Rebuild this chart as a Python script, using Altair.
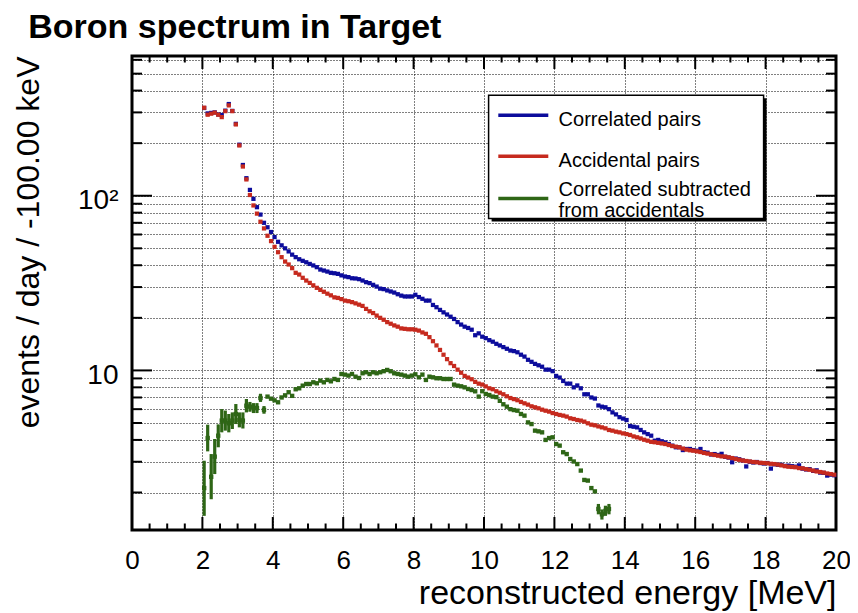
import altair as alt
import pandas as pd

# ---------------- data ----------------
E_START = 2.0      # first bin edge [MeV]
BIN = 0.1          # bin width [MeV]

blue = [318, 296, 298, 300, 292, 290, 307, 335, 306, 258,
        196, 150, 126, 108, 96, 86, 78, 70, 66, 62,
        58, 54.5, 52, 50, 48, 46, 44.5, 43.3, 42.4, 41.6,
        40.7, 39.9, 39.0, 37.8, 37.3, 36.8, 36.2, 36.0, 35.7, 35.0,
        34.5, 34.2, 33.7, 33.6, 33.3, 32.7, 32.0, 31.6, 30.9, 30.2,
        29.4, 29.2, 28.7, 28.3, 27.9, 27.3, 26.8, 26.5, 26.5, 26.5,
        27.1, 26.3, 25.7, 25.1, 25.1, 23.7, 23.0, 22.2, 21.5, 20.9,
        20.3, 19.7, 18.9, 18.3, 17.8, 17.5, 17.1, 15.9, 16.3, 15.6,
        15.3, 14.9, 14.6, 14.2, 13.9, 13.6, 13.3, 13.0, 12.9, 12.7,
        12.3, 12.0, 11.5, 11.2, 10.9, 10.7, 10.5, 10.1, 10.1, 9.9,
        9.3, 9.1, 8.7, 8.4, 8.4, 8.0, 8.2, 7.9, 7.3, 7.3,
        7.0, 6.9, 6.3, 6.2, 6.15, 6.0, 5.75, 5.6, 5.4, 5.3,
        5.2, 4.8, 4.76, 4.72, 4.56, 4.42, 4.32, 4.23, 3.96, 4.0,
        3.93, 3.87, 3.79, 3.71, 3.63, 3.63, 3.50, 3.55, 3.55, 3.50,
        3.47, 3.55, 3.40, 3.38, 3.30, 3.32, 3.28, 3.33, 3.20, 3.17,
        2.98, 3.13, 3.10, 3.05, 2.82, 3.00, 2.97, 2.99, 2.95, 2.93,
        2.95, 2.74, 2.90, 2.88, 2.88, 2.84, 2.85, 2.83, 2.81, 2.86,
        2.74, 2.71, 2.72, 2.66, 2.68, 2.60, 2.59, 2.50, 2.53, 2.51]

red = [319, 291, 295, 299, 291, 282, 305, 329, 305, 256,
       194, 147, 124, 101, 88, 79, 71, 65, 59, 55,
       51, 47.5, 44.5, 42.0, 40.4, 38.5, 36.2, 35.4, 33.9, 32.7,
       31.7, 30.7, 29.7, 28.9, 28.2, 27.5, 26.9, 26.2, 26.0, 25.6,
       25.1, 24.9, 24.6, 24.2, 23.8, 23.4, 22.5, 21.8, 21.3, 20.6,
       20.0, 19.5, 18.9, 18.5, 18.1, 17.8, 17.4, 17.3, 17.2, 17.2,
       17.1, 16.9, 16.5, 16.2, 15.5, 14.7, 13.9, 13.1, 12.3, 11.6,
       11.0, 10.6, 10.1, 9.7, 9.3, 9.1, 8.9, 8.6, 8.4, 8.3,
       8.1, 7.9, 7.8, 7.6, 7.45, 7.3, 7.11, 6.95, 6.85, 6.75,
       6.6, 6.48, 6.37, 6.23, 6.15, 6.07, 5.96, 5.88, 5.81, 5.70,
       5.63, 5.56, 5.51, 5.44, 5.32, 5.27, 5.20, 5.16, 5.09, 4.98,
       4.89, 4.85, 4.78, 4.72, 4.66, 4.56, 4.52, 4.46, 4.42, 4.36,
       4.32, 4.27, 4.19, 4.14, 4.08, 4.01, 3.96, 3.90, 3.88, 3.85,
       3.82, 3.79, 3.74, 3.69, 3.66, 3.63, 3.57, 3.52, 3.49, 3.47,
       3.44, 3.41, 3.37, 3.34, 3.31, 3.28, 3.25, 3.22, 3.21, 3.18,
       3.15, 3.11, 3.08, 3.05, 3.03, 3.01, 2.99, 2.98, 2.96, 2.95,
       2.94, 2.92, 2.91, 2.89, 2.86, 2.83, 2.81, 2.80, 2.79, 2.76,
       2.75, 2.72, 2.70, 2.67, 2.64, 2.62, 2.60, 2.57, 2.55, 2.53]

green = [2.12, 4.10, 2.46, 3.21, 4.23, 5.16, 5.16, 4.98, 5.16, 5.63,
         5.2, 5.16, 6.28, 6.2, 6.09, 6.09, 6.95, 5.94, 7.08, 6.89,
         6.74, 6.57, 7.0, 7.2, 7.5, 7.15, 7.8, 7.9, 8.18, 8.36,
         8.36, 8.55, 8.44, 8.74, 8.55, 8.82, 8.66, 8.93, 8.82, 9.54,
         9.46, 9.34, 9.54, 9.21, 9.05, 9.63, 9.76, 9.54, 9.76, 9.63,
         9.76, 9.9, 10.06, 9.89, 9.63, 9.54, 9.46, 9.34, 9.21, 9.34,
         9.5, 9.13, 9.46, 8.82, 9.21, 9.13, 9.02, 9.02, 8.93, 8.93,
         8.93, 8.29, 8.18, 8.11, 8.0, 7.83, 7.72, 7.59, 7.08, 7.6,
         7.33, 7.23, 7.08, 7.03, 6.7, 6.4, 6.2, 6.0, 5.93, 5.88,
         5.63, 5.51, 5.04, 4.93, 4.52, 4.48, 4.42, 4.0, 4.10, 4.14,
         3.79, 3.71, 3.40, 3.32, 3.11, 3.01, 2.91, 2.67, 2.36, 2.34,
         2.12, 2.03, 1.61, 1.50, 1.57, 1.61]

# error bar ends of the subtracted spectrum (first bins and last bins)
green_lo_head = [1.47, 3.44, 1.83, 2.55, 3.63, 4.42, 4.52, 4.42, 4.62, 4.93,
                 4.72, 4.65, 5.75, 5.8, 5.7, 5.7, 6.6, 5.65]
green_hi_head = [3.04, 4.89, 3.32, 4.05, 4.91, 6.01, 5.89, 5.63, 5.75, 6.42,
                 5.75, 5.75, 6.86, 6.6, 6.5, 6.5, 7.35, 6.25]
green_lo_tail = [1.50, 1.40, 1.47, 1.50]
green_hi_tail = [1.72, 1.60, 1.68, 1.72]

series_names = ["Correlated pairs", "Accidental pairs",
                "Correlated subtracted", "from accidentals"]

x_major = [0, 2, 4, 6, 8, 10, 12, 14, 16, 18, 20]
x_minor = [0.5, 1, 1.5, 2.5, 3, 3.5, 4.5, 5, 5.5, 6.5, 7, 7.5, 8.5, 9, 9.5,
           10.5, 11, 11.5, 12.5, 13, 13.5, 14.5, 15, 15.5, 16.5, 17, 17.5,
           18.5, 19, 19.5]
y_major = [10, 100]
y_minor = [2, 3, 4, 5, 6, 7, 8, 9, 20, 30, 40, 50, 60, 70, 80, 90,
           200, 300, 400, 500, 600]
y_gridvals = [2, 3, 4, 5, 6, 7, 8, 9, 10, 20, 30, 40, 50, 60, 70, 80, 90,
              100, 200, 300, 400, 500, 600]

# ---------------- styling ----------------
W, H = 704, 474
FONT = "Liberation Sans"
BLUE = "#0c0c9c"
RED = "#c62a1e"
GREEN = "#2e6616"


def centers(n):
    return [round(E_START + BIN * (i + 0.5), 3) for i in range(n)]


xs = alt.Scale(domain=[0, 20], nice=False, zero=False)
ys = alt.Scale(type="log", domain=[1.22, 631], nice=False)

x_axis = alt.Axis(values=x_major, title="reconstructed energy [MeV]",
                  grid=True, gridDash=[1, 2], gridColor="black", gridOpacity=1,
                  gridWidth=1, ticks=False, tickSize=0, domain=False,
                  labelFont=FONT, labelFontSize=26, labelColor="black",
                  labelPadding=38, labelBaseline="alphabetic", labelOverlap=False,
                  labelFlush=False,
                  titleFont=FONT, titleFontSize=34, titleFontWeight="normal",
                  titleColor="black", titleAlign="right", titleBaseline="alphabetic",
                  titleX=W, titleY=73)

y_axis = alt.Axis(values=y_gridvals,
                  labelExpr="datum.value == 100 ? '10²' : (datum.value == 10 ? '10' : '')",
                  grid=True, gridDash=[1, 2], gridColor="black", gridOpacity=1,
                  gridWidth=1, ticks=False, tickSize=0, domain=False,
                  labelFont=FONT, labelFontSize=28, labelColor="black",
                  labelPadding=14, labelOffset=5, labelOverlap=False,
                  title="events / day / -100.00 keV",
                  titleFont=FONT, titleFontSize=32, titleFontWeight="normal",
                  titleColor="black", titleAngle=270, titleAlign="right",
                  titleBaseline="alphabetic", titleX=-94, titleY=0)


def X(field):
    return alt.X(field, type="quantitative", scale=xs, axis=x_axis)


def Y(field):
    return alt.Y(field, type="quantitative", scale=ys, axis=y_axis)


df_b = pd.DataFrame({"E": centers(len(blue)), "v": blue})
df_r = pd.DataFrame({"E": centers(len(red)), "v": red})
df_g = pd.DataFrame({"E": centers(len(green)), "v": green})
gE = centers(len(green))
df_gerr = pd.DataFrame({
    "E": gE[:len(green_lo_head)] + gE[-len(green_lo_tail):],
    "lo": green_lo_head + green_lo_tail,
    "hi": green_hi_head + green_hi_tail,
})

pts_b = alt.Chart(df_b).mark_square(size=18, color=BLUE, opacity=1).encode(x=X("E"), y=Y("v"))
pts_r = alt.Chart(df_r).mark_square(size=18, color=RED, opacity=1).encode(x=X("E"), y=Y("v"))
err_g = alt.Chart(df_gerr).mark_rule(color=GREEN, strokeWidth=3.2).encode(
    x=X("E"), y=Y("lo"), y2="hi")
pts_g = alt.Chart(df_g).mark_square(size=19, color=GREEN, opacity=1).encode(x=X("E"), y=Y("v"))

# ---------------- ticks (inside the frame, on all four sides) ----------------
dxM = pd.DataFrame({"t": x_major})
dxm = pd.DataFrame({"t": x_minor})
dyM = pd.DataFrame({"t": y_major})
dym = pd.DataFrame({"t": y_minor})

tick_layers = []
for d, ln in ((dxM, 13), (dxm, 6.5)):
    tick_layers.append(alt.Chart(d).mark_rule(color="black", strokeWidth=2).encode(
        x=X("t"), y=alt.value(H), y2=alt.value(H - ln)))
    tick_layers.append(alt.Chart(d).mark_rule(color="black", strokeWidth=2).encode(
        x=X("t"), y=alt.value(0), y2=alt.value(ln)))
for d, ln in ((dyM, 20), (dym, 10)):
    tick_layers.append(alt.Chart(d).mark_rule(color="black", strokeWidth=2).encode(
        y=Y("t"), x=alt.value(0), x2=alt.value(ln)))
    tick_layers.append(alt.Chart(d).mark_rule(color="black", strokeWidth=2).encode(
        y=Y("t"), x=alt.value(W), x2=alt.value(W - ln)))

# ---------------- legend box ----------------
one = alt.Data(values=[{"k": 1}])
LX0, LX1, LY0, LY1 = 356.6, 631.6, 39.3, 162.6
leg = [
    alt.Chart(one).mark_rect(color="black").encode(
        x=alt.value(LX0 + 3), x2=alt.value(LX1 + 3), y=alt.value(LY0 + 3), y2=alt.value(LY1 + 3)),
    alt.Chart(one).mark_rect(fill="white", stroke="black", strokeWidth=1.5).encode(
        x=alt.value(LX0), x2=alt.value(LX1), y=alt.value(LY0), y2=alt.value(LY1)),
]
for col, yy in ((BLUE, 59.3), (RED, 100.3), (GREEN, 142.6)):
    leg.append(alt.Chart(one).mark_rule(color=col, strokeWidth=3.5).encode(
        x=alt.value(366.3), x2=alt.value(416.3), y=alt.value(yy)))
for txt, yy in zip(series_names, (70.3, 110.9, 139.6, 160.8)):
    leg.append(alt.Chart(one).mark_text(font=FONT, fontSize=20, align="left",
                                        baseline="alphabetic", color="black").encode(
        x=alt.value(426.6), y=alt.value(yy), text=alt.value(txt)))

title = alt.Chart(one).mark_text(font=FONT, fontSize=34, fontWeight="bold", align="left",
                                 baseline="alphabetic", color="black").encode(
    x=alt.value(-103.7), y=alt.value(-18.5), text=alt.value("Boron spectrum in Target"))

chart = alt.layer(pts_b, pts_r, err_g, pts_g, *tick_layers, *leg, title).properties(
    width=W, height=H,
    autosize=alt.AutoSizeParams(type="none"),
    padding={"left": 124, "top": 48, "right": 14, "bottom": 83},
    background="white",
).configure_view(stroke="black", strokeWidth=3)

chart.save("out.html", embed_options={"renderer": "svg", "actions": False})
